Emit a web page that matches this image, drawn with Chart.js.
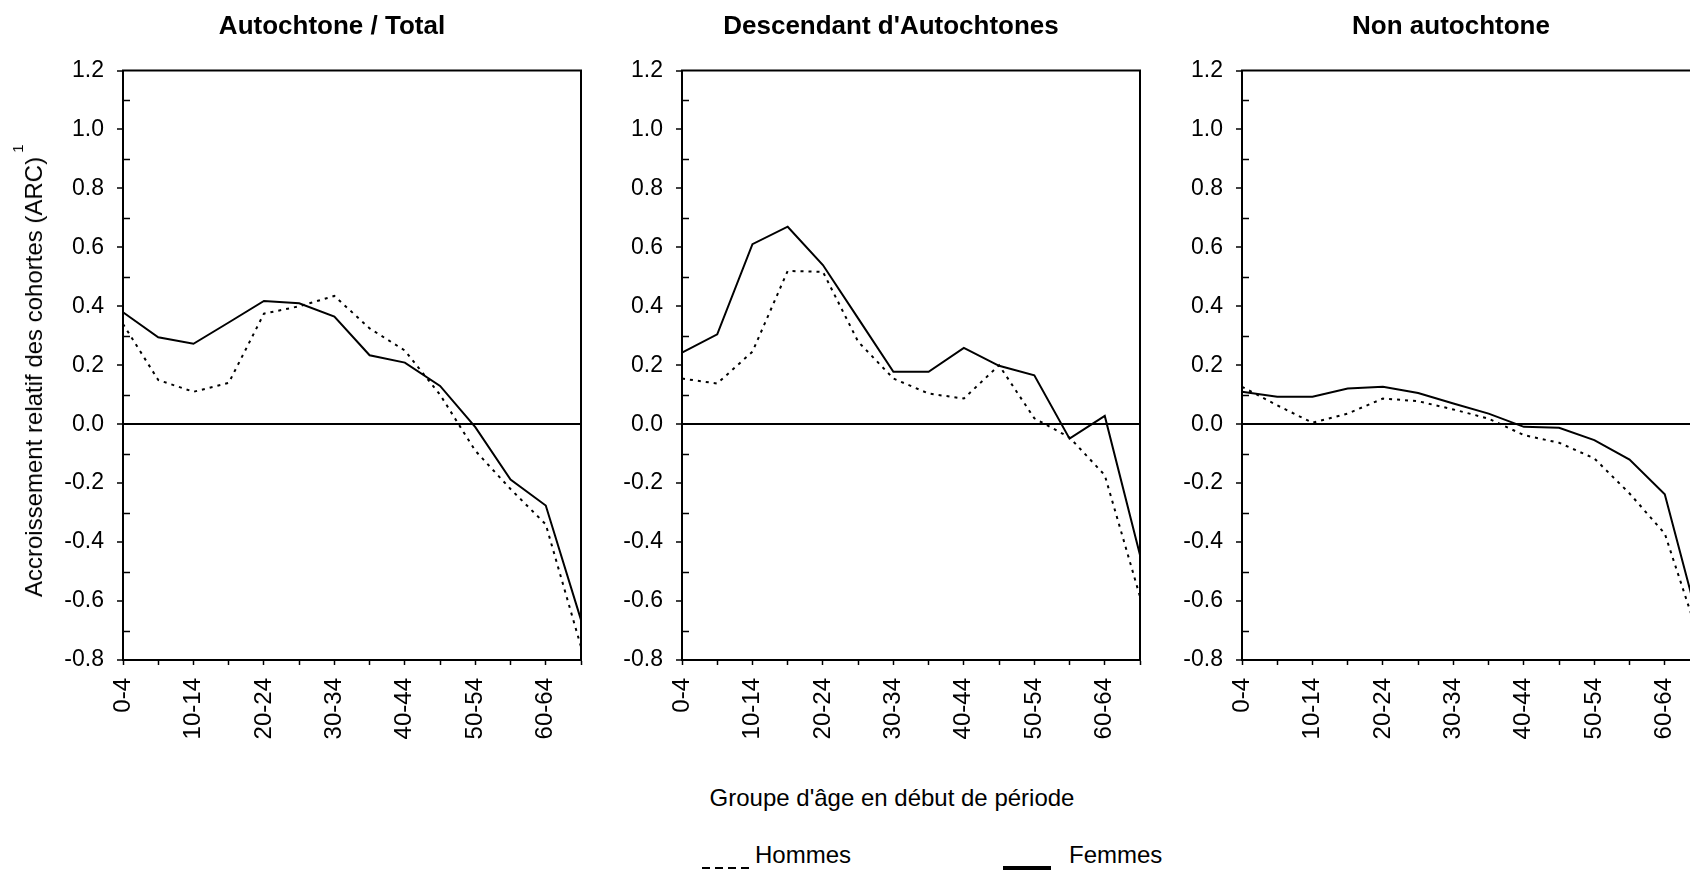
<!DOCTYPE html>
<html>
<head>
<meta charset="utf-8">
<title>Accroissement relatif des cohortes</title>
<script src="https://cdn.jsdelivr.net/npm/chart.js@4.4.1/dist/chart.umd.min.js"></script>
<style>
  html, body { margin: 0; padding: 0; background: #fff; }
  body { width: 1690px; height: 870px; overflow: hidden; position: relative;
         font-family: 'Liberation Sans', Arial, sans-serif; color: #000; }
  .panel { position: absolute; top: 0; }
  .txt { position: absolute; white-space: nowrap; line-height: 1; }
  #ytitle { left: 34px; top: 377px; font-size: 24px; transform: translate(-50%, -50%) rotate(-90deg); }
  #ytitle span { position: absolute; left: calc(100% + 4px); top: -12px; font-size: 15px; }
  #xtitle { left: 892px; top: 786px; font-size: 24px; transform: translateX(-50%); }
  .leg { font-size: 24px; top: 843px; }
  .sample { position: absolute; width: 48px; }
</style>
</head>
<body>

<div class="panel" style="left:33px"><canvas id="chart1" width="598" height="760"></canvas></div>
<div class="panel" style="left:592px"><canvas id="chart2" width="598" height="760"></canvas></div>
<div class="panel" style="left:1152px"><canvas id="chart3" width="598" height="760"></canvas></div>

<div class="txt" id="ytitle">Accroissement relatif des cohortes (ARC)<span>1</span></div>
<div class="txt" id="xtitle">Groupe d'âge en début de période</div>

<div class="sample" style="left:702px; top:867px; height:2px; background:repeating-linear-gradient(to right, #000 0 8px, transparent 8px 13px);"></div>
<div class="txt leg" style="left:755px">Hommes</div>
<div class="sample" style="left:1003px; top:866px; height:4px; background:#000;"></div>
<div class="txt leg" style="left:1069px">Femmes</div>

<script>
// age groups at the start of the period
var ageGroups = ['0-4', '5-9', '10-14', '15-19', '20-24', '25-29', '30-34',
                 '35-39', '40-44', '45-49', '50-54', '55-59', '60-64', '65-69'];

var panelTitles = ['Autochtone / Total', "Descendant d'Autochtones", 'Non autochtone'];

// Autochtone / Total
var hommes1 = [0.34, 0.15, 0.11, 0.14, 0.375, 0.40, 0.435, 0.325, 0.25, 0.10, -0.09, -0.22, -0.34, -0.755];
var femmes1 = [0.38, 0.295, 0.273, 0.345, 0.418, 0.41, 0.365, 0.234, 0.209, 0.13, -0.01, -0.188, -0.276, -0.664];

// Descendant d'Autochtones
var hommes2 = [0.155, 0.138, 0.246, 0.52, 0.517, 0.28, 0.155, 0.104, 0.087, 0.20, 0.02, -0.045, -0.173, -0.585];
var femmes2 = [0.243, 0.305, 0.611, 0.67, 0.54, 0.359, 0.178, 0.178, 0.259, 0.198, 0.166, -0.049, 0.028, -0.444];

// Non autochtone
var hommes3 = [0.127, 0.064, 0.005, 0.036, 0.087, 0.078, 0.05, 0.019, -0.037, -0.063, -0.116, -0.235, -0.371, -0.735];
var femmes3 = [0.11, 0.093, 0.093, 0.121, 0.127, 0.106, 0.07, 0.036, -0.009, -0.012, -0.054, -0.12, -0.238, -0.69];

var yMin = -0.8, yMax = 1.2, yStep = 0.2;

Chart.defaults.font.family = "'Liberation Sans', Arial, sans-serif";
Chart.defaults.color = '#000';

// box round the plot area + small inner ticks between the labelled ones
var framePlugin = {
    id: 'frame',
    afterDraw: function (chart) {
        var ctx = chart.ctx, a = chart.chartArea, ys = chart.scales.y;
        ctx.save();
        ctx.strokeStyle = '#000';
        ctx.lineWidth = 2;
        ctx.strokeRect(a.left, a.top, a.right - a.left, a.bottom - a.top);
        ctx.lineWidth = 1.5;
        ctx.beginPath();
        for (var v = yMin + yStep / 2; v < yMax; v += yStep) {
            var py = Math.round(ys.getPixelForValue(v)) + 0.5;
            ctx.moveTo(a.left, py);
            ctx.lineTo(a.left + 7, py);
        }
        ctx.stroke();
        ctx.restore();
    }
};

function makeChart(id, title, hommes, femmes) {
    var ctx = document.getElementById(id).getContext('2d');
    return new Chart(ctx, {
        type: 'line',
        data: {
            labels: ageGroups,
            datasets: [
                { label: 'Hommes', data: hommes, borderColor: '#000', borderWidth: 2,
                  borderDash: [3, 5], pointRadius: 0, tension: 0, fill: false },
                { label: 'Femmes', data: femmes, borderColor: '#000', borderWidth: 2,
                  pointRadius: 0, tension: 0, fill: false }
            ]
        },
        options: {
            responsive: false,
            animation: false,
            events: [],
            layout: { padding: 0 },
            plugins: {
                legend: { display: false },
                tooltip: { enabled: false },
                title: { display: true, text: title, color: '#000',
                         font: { size: 26, weight: 'bold' }, padding: { top: 11, bottom: 28.3 } }
            },
            scales: {
                x: {
                    type: 'category',
                    offset: false,
                    grid: { drawOnChartArea: false, tickLength: 5, tickColor: '#000', tickWidth: 1.5 },
                    border: { display: true, color: '#000', width: 2 },
                    ticks: {
                        autoSkip: false, minRotation: 90, maxRotation: 90, padding: 13,
                        color: '#000', font: { size: 24 },
                        callback: function (v, i) { return i % 2 === 0 ? ageGroups[i] : ''; }
                    },
                    afterFit: function (s) { s.height = 100; }
                },
                y: {
                    min: yMin, max: yMax,
                    ticks: {
                        stepSize: yStep, padding: 13, color: '#000', font: { size: 23 },
                        callback: function (v) { return (Math.abs(v) < 1e-9 ? 0 : v).toFixed(1); }
                    },
                    grid: {
                        color: function (c) {
                            return c.tick && Math.abs(c.tick.value) < 1e-9 ? '#000' : 'rgba(0,0,0,0)';
                        },
                        lineWidth: 2, tickLength: 6, tickColor: '#000', tickWidth: 1.5
                    },
                    border: { display: true, color: '#000', width: 2 },
                    afterFit: function (s) { s.width = 90; }
                },
                // empty right axis, only keeps room on the right side
                y2: {
                    position: 'right',
                    grid: { display: false },
                    ticks: { display: false },
                    border: { display: false },
                    afterFit: function (s) { s.width = 50; }
                }
            }
        },
        plugins: [framePlugin]
    });
}

var chart1 = makeChart('chart1', panelTitles[0], hommes1, femmes1);
var chart2 = makeChart('chart2', panelTitles[1], hommes2, femmes2);
var chart3 = makeChart('chart3', panelTitles[2], hommes3, femmes3);
</script>
</body>
</html>
